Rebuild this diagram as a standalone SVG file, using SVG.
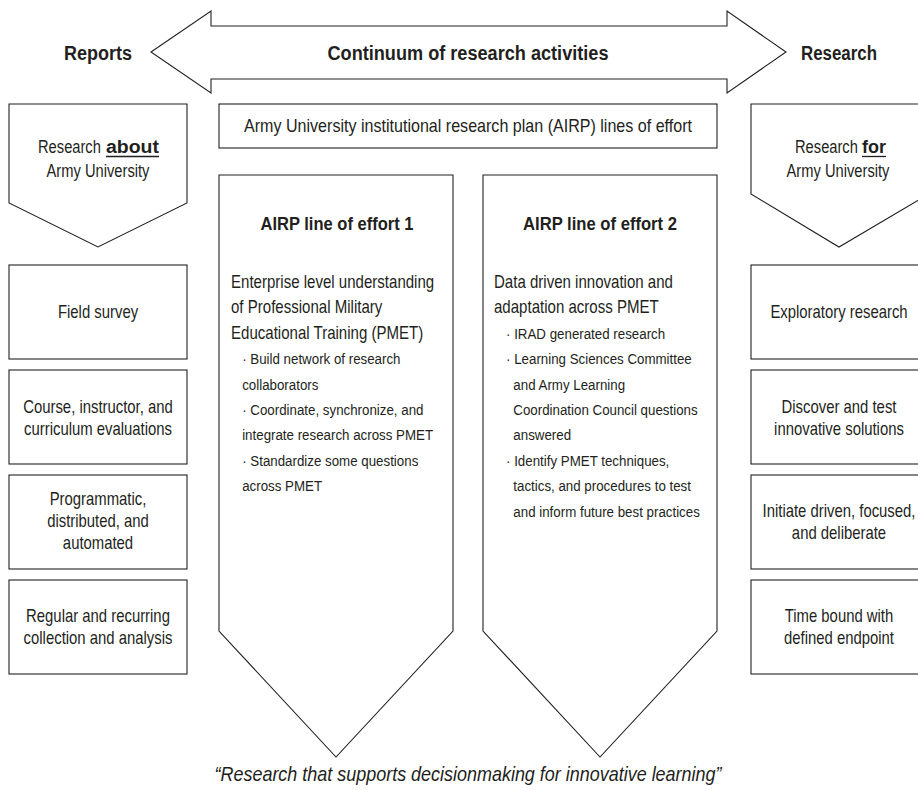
<svg xmlns="http://www.w3.org/2000/svg" width="918" height="790" viewBox="0 0 918 790">
<style>
.shape{fill:#fff;stroke:#231f20;stroke-width:1.1}
.t{font-family:"Liberation Sans",Arial,sans-serif;font-size:17.5px;fill:#231f20}
.c{text-anchor:middle}
.b{font-weight:bold}
.s{font-size:15.5px}
.h{font-size:19.5px;font-weight:bold}
.q{font-size:21px;font-style:italic}
.ul{stroke:#231f20;stroke-width:1.3}
</style>
<rect width="918" height="790" fill="#fff"/>

<g id="connectors">
  <polygon class="shape" points="151,52 211,11 211,26 727,26 727,11 786,52 727,93 727,79 211,79 211,93"/>
  <text class="t h c" x="468" y="60" textLength="281" lengthAdjust="spacingAndGlyphs">Continuum of research activities</text>
</g>

<g id="label-reports">
  <text class="t h" x="64" y="60" textLength="68" lengthAdjust="spacingAndGlyphs">Reports</text>
</g>
<g id="label-research">
  <text class="t h" x="801" y="60" textLength="76" lengthAdjust="spacingAndGlyphs">Research</text>
</g>

<g id="research-about">
  <polygon class="shape" points="9,104 187,104 187,203 98,247 9,203"/>
  <text class="t" transform="translate(38 153) scale(0.84 1)">Research</text>
  <text class="t b" x="106" y="153" textLength="53" lengthAdjust="spacingAndGlyphs">about</text>
  <line class="ul" x1="106" y1="156.5" x2="159" y2="156.5"/>
  <text class="t c" transform="translate(98 177) scale(0.84 1)">Army University</text>
</g>

<g id="research-for">
  <polygon class="shape" points="751,104 929,104 929,194 839,247 751,194"/>
  <text class="t" transform="translate(795 153) scale(0.84 1)">Research</text>
  <text class="t b" x="862" y="153" textLength="24" lengthAdjust="spacingAndGlyphs">for</text>
  <line class="ul" x1="862" y1="156.5" x2="886" y2="156.5"/>
  <text class="t c" transform="translate(838 177) scale(0.84 1)">Army University</text>
</g>

<g id="airp-plan">
  <rect class="shape" x="219" y="104" width="498" height="44"/>
  <text class="t c" x="468" y="132" textLength="448" lengthAdjust="spacingAndGlyphs" style="font-size:18.5px">Army University institutional research plan (AIRP) lines of effort</text>
</g>

<g id="loe-1">
  <polygon class="shape" points="219,175 453,175 453,631 336,757 219,631"/>
  <text class="t b c" x="337" y="230" textLength="153" lengthAdjust="spacingAndGlyphs" style="font-size:18px">AIRP line of effort 1</text>
  <g transform="translate(231 0) scale(0.86 1)">
    <text class="t" x="0" y="288">Enterprise level understanding</text>
    <text class="t" x="0" y="313.4">of Professional Military</text>
    <text class="t" x="0" y="338.8">Educational Training (PMET)</text>
    <text class="t s" x="13" y="364.2">· Build network of research</text>
    <text class="t s" x="13" y="389.6">collaborators</text>
    <text class="t s" x="13" y="415">· Coordinate, synchronize, and</text>
    <text class="t s" x="13" y="440.4">integrate research across PMET</text>
    <text class="t s" x="13" y="465.8">· Standardize some questions</text>
    <text class="t s" x="13" y="491.2">across PMET</text>
  </g>
</g>

<g id="loe-2">
  <polygon class="shape" points="483,175 717,175 717,631 600,757 483,631"/>
  <text class="t b c" x="600" y="230" textLength="154" lengthAdjust="spacingAndGlyphs" style="font-size:18px">AIRP line of effort 2</text>
  <g transform="translate(494 0) scale(0.86 1)">
    <text class="t" x="0" y="288">Data driven innovation and</text>
    <text class="t" x="0" y="313.4">adaptation across PMET</text>
    <text class="t s" x="14" y="338.8">· IRAD generated research</text>
    <text class="t s" x="14" y="364.2">· Learning Sciences Committee</text>
    <text class="t s" x="22.5" y="389.6">and Army Learning</text>
    <text class="t s" x="22.5" y="415">Coordination Council questions</text>
    <text class="t s" x="22.5" y="440.4">answered</text>
    <text class="t s" x="14" y="465.8">· Identify PMET techniques,</text>
    <text class="t s" x="22.5" y="491.2">tactics, and procedures to test</text>
    <text class="t s" x="22.5" y="516.6">and inform future best practices</text>
  </g>
</g>

<g id="field-survey">
  <rect class="shape" x="9" y="265" width="178" height="94"/>
  <text class="t c" transform="translate(98 318) scale(0.85 1)">Field survey</text>
</g>
<g id="course-evaluations">
  <rect class="shape" x="9" y="370" width="178" height="94"/>
  <text class="t c" transform="translate(98 413) scale(0.85 1)">Course, instructor, and</text>
  <text class="t c" transform="translate(98 435) scale(0.85 1)">curriculum evaluations</text>
</g>
<g id="programmatic">
  <rect class="shape" x="9" y="475" width="178" height="94"/>
  <text class="t c" transform="translate(98 505) scale(0.85 1)">Programmatic,</text>
  <text class="t c" transform="translate(98 527) scale(0.85 1)">distributed, and</text>
  <text class="t c" transform="translate(98 549) scale(0.85 1)">automated</text>
</g>
<g id="regular-recurring">
  <rect class="shape" x="9" y="580" width="178" height="94"/>
  <text class="t c" transform="translate(98 622) scale(0.85 1)">Regular and recurring</text>
  <text class="t c" transform="translate(98 644) scale(0.85 1)">collection and analysis</text>
</g>

<g id="exploratory">
  <rect class="shape" x="751" y="265" width="178" height="94"/>
  <text class="t c" transform="translate(839 318) scale(0.85 1)">Exploratory research</text>
</g>
<g id="discover-test">
  <rect class="shape" x="751" y="370" width="178" height="94"/>
  <text class="t c" transform="translate(839 413) scale(0.85 1)">Discover and test</text>
  <text class="t c" transform="translate(839 435) scale(0.85 1)">innovative solutions</text>
</g>
<g id="initiate-driven">
  <rect class="shape" x="751" y="475" width="178" height="94"/>
  <text class="t c" transform="translate(839 517) scale(0.85 1)">Initiate driven, focused,</text>
  <text class="t c" transform="translate(839 539) scale(0.85 1)">and deliberate</text>
</g>
<g id="time-bound">
  <rect class="shape" x="751" y="580" width="178" height="94"/>
  <text class="t c" transform="translate(839 622) scale(0.85 1)">Time bound with</text>
  <text class="t c" transform="translate(839 644) scale(0.85 1)">defined endpoint</text>
</g>

<g id="quote">
  <text class="t q c" x="468" y="781" textLength="507" lengthAdjust="spacingAndGlyphs">“Research that supports decisionmaking for innovative learning”</text>
</g>
</svg>
